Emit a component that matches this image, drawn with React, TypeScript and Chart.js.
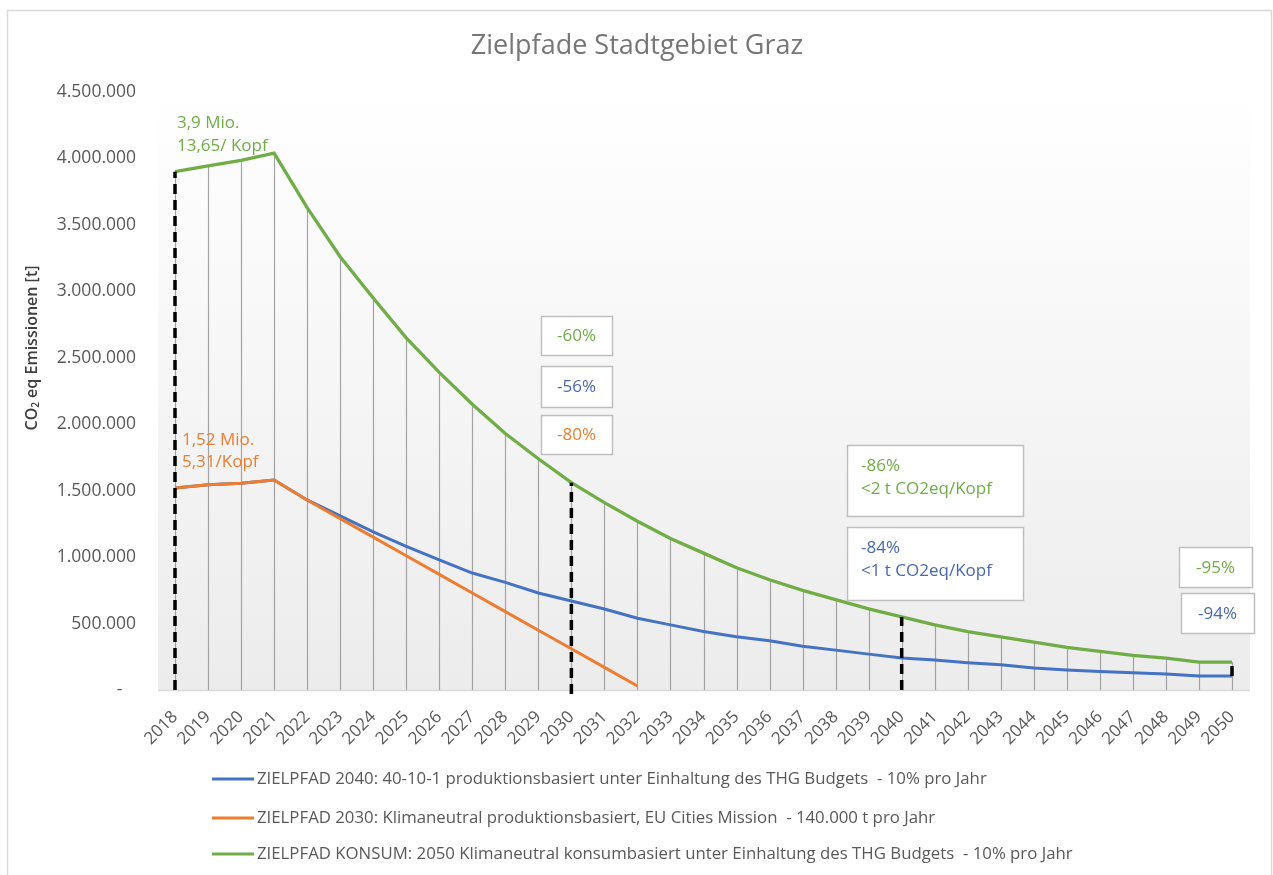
import React, { useEffect, useRef } from 'react';
import { Chart, registerables } from 'chart.js';

Chart.register(...registerables);

const years = ['2018', '2019', '2020', '2021', '2022', '2023', '2024', '2025', '2026', '2027', '2028', '2029', '2030', '2031', '2032', '2033', '2034', '2035', '2036', '2037', '2038', '2039', '2040', '2041', '2042', '2043', '2044', '2045', '2046', '2047', '2048', '2049', '2050'];

const zielpfad2040 = [1520000, 1545000, 1555000, 1580000, 1430000, 1310000, 1190000, 1080000, 980000, 880000, 810000, 730000, 670000, 610000, 540000, 490000, 440000, 400000, 370000, 330000, 300000, 270000, 240000, 225000, 205000, 190000, 165000, 150000, 140000, 130000, 120000, 105000, 105000];

const zielpfad2030 = [1520000, 1545000, 1555000, 1580000, 1430000, 1290000, 1150000, 1010000, 870000, 730000, 590000, 450000, 310000, 170000, 30000, null, null, null, null, null, null, null, null, null, null, null, null, null, null, null, null, null, null];

const zielpfadKonsum = [3900000, 3945000, 3985000, 4040000, 3630000, 3260000, 2950000, 2650000, 2390000, 2150000, 1930000, 1740000, 1560000, 1410000, 1270000, 1140000, 1030000, 920000, 830000, 750000, 680000, 610000, 550000, 490000, 440000, 400000, 360000, 320000, 290000, 260000, 240000, 210000, 210000];

const seriesNames = [
  'ZIELPFAD 2040: 40-10-1 produktionsbasiert unter Einhaltung des THG Budgets  - 10% pro Jahr',
  'ZIELPFAD 2030: Klimaneutral produktionsbasiert, EU Cities Mission  - 140.000 t pro Jahr',
  'ZIELPFAD KONSUM: 2050 Klimaneutral konsumbasiert unter Einhaltung des THG Budgets  - 10% pro Jahr',
];

const yMax = 4500000;
const yStep = 500000;

const chartTitle = 'Zielpfade Stadtgebiet Graz';

// dashed marker years: from base value to the KONSUM path
const markerYears = ['2018', '2030', '2040', '2050'];
const markerBases = [0, -30000, 0, 105000];

const BLUE = '#4472C4';
const ORANGE = '#ED7D31';
const GREEN = '#70AD47';
const BLUE_TXT = '#4868B4';
const FONT = '"Open Sans", "Noto Sans", sans-serif';

const plainLabels = [
  { x: 177, y: 123, text: '3,9 Mio.', color: GREEN },
  { x: 177, y: 146, text: '13,65/ Kopf', color: GREEN },
  { x: 182, y: 440, text: '1,52 Mio.', color: ORANGE },
  { x: 182, y: 462, text: '5,31/Kopf', color: ORANGE },
];

const boxes = [
  { x: 541, y: 316, w: 71, h: 39, lines: ['-60%'], color: GREEN, center: true },
  { x: 541, y: 366, w: 71, h: 41, lines: ['-56%'], color: BLUE_TXT, center: true },
  { x: 541, y: 415, w: 71, h: 39, lines: ['-80%'], color: ORANGE, center: true },
  { x: 847, y: 445, w: 176, h: 71, lines: ['-86%', '<2 t CO2eq/Kopf'], color: GREEN, center: false },
  { x: 847, y: 527, w: 176, h: 73, lines: ['-84%', '<1 t CO2eq/Kopf'], color: BLUE_TXT, center: false },
  { x: 1179, y: 547, w: 73, h: 40, lines: ['-95%'], color: GREEN, center: true },
  { x: 1181, y: 593, w: 73, h: 40, lines: ['-94%'], color: BLUE_TXT, center: true },
];

const fmt = (v: number) => (v === 0 ? '-   ' : String(v).replace(/\B(?=(\d{3})+(?!\d))/g, '.'));

const customPlugin = {
  id: 'customDraw',
  beforeDraw(chart: any) {
    const { ctx } = chart;
    const x = chart.scales.x;
    const y = chart.scales.y;
    ctx.save();
    ctx.fillStyle = '#ffffff';
    ctx.fillRect(0, 0, chart.width, chart.height);
    ctx.strokeStyle = '#d9d9d9';
    ctx.lineWidth = 1.5;
    ctx.strokeRect(7.5, 10.5, 1264, 900);
    const left = x.left - 17;
    const right = x.right + 18;
    const top = y.top;
    const bottom = y.getPixelForValue(0);
    const g = ctx.createLinearGradient(0, top, 0, bottom);
    g.addColorStop(0, '#ffffff');
    g.addColorStop(1, '#ececec');
    ctx.fillStyle = g;
    ctx.fillRect(left, top, right - left, bottom - top);
    ctx.strokeStyle = '#d9d9d9';
    ctx.lineWidth = 1.5;
    ctx.beginPath();
    ctx.moveTo(left, bottom + 0.5);
    ctx.lineTo(right, bottom + 0.5);
    ctx.stroke();
    ctx.restore();
  },
  beforeDatasetsDraw(chart: any) {
    const { ctx } = chart;
    const x = chart.scales.x;
    const y = chart.scales.y;
    ctx.save();
    ctx.strokeStyle = '#a3a3a3';
    ctx.lineWidth = 1.2;
    years.forEach((_, i) => {
      const vals = [zielpfad2040[i], zielpfad2030[i], zielpfadKonsum[i]].filter((v) => v != null) as number[];
      const mx = Math.max(...vals);
      const px = Math.round(x.getPixelForValue(i)) + 0.5;
      ctx.beginPath();
      ctx.moveTo(px, y.getPixelForValue(0));
      ctx.lineTo(px, y.getPixelForValue(mx));
      ctx.stroke();
    });
    ctx.restore();
  },
  afterDatasetsDraw(chart: any) {
    const { ctx } = chart;
    const x = chart.scales.x;
    const y = chart.scales.y;
    ctx.save();
    ctx.strokeStyle = '#000000';
    ctx.lineWidth = 3.5;
    ctx.setLineDash([10, 6]);
    markerYears.forEach((yr, k) => {
      const i = years.indexOf(yr);
      const px = x.getPixelForValue(i);
      ctx.beginPath();
      ctx.moveTo(px, y.getPixelForValue(markerBases[k]));
      ctx.lineTo(px, y.getPixelForValue(zielpfadKonsum[i]));
      ctx.stroke();
    });
    ctx.restore();
  },
  afterDraw(chart: any) {
    const { ctx } = chart;
    ctx.save();
    // title
    ctx.fillStyle = '#767676';
    ctx.font = `27px ${FONT}`;
    ctx.textAlign = 'center';
    ctx.textBaseline = 'middle';
    ctx.fillText(chartTitle, 637, 46);

    // y axis title
    ctx.save();
    ctx.translate(32, 348);
    ctx.rotate(-Math.PI / 2);
    ctx.fillStyle = '#3f3f3f';
    ctx.textBaseline = 'middle';
    ctx.textAlign = 'left';
    const f1 = `600 16px ${FONT}`;
    const f2 = `600 10px ${FONT}`;
    const partA = 'CO';
    const partB = '2';
    const partC = ' eq Emissionen [t]';
    ctx.font = f1;
    const wA = ctx.measureText(partA).width;
    const wC = ctx.measureText(partC).width;
    ctx.font = f2;
    const wB = ctx.measureText(partB).width;
    const total = wA + wB + wC;
    let cx = -total / 2;
    ctx.font = f1;
    ctx.fillText(partA, cx, 0);
    cx += wA;
    ctx.font = f2;
    ctx.fillText(partB, cx, 4);
    cx += wB;
    ctx.font = f1;
    ctx.fillText(partC, cx, 0);
    ctx.restore();

    // legend
    const colors = [BLUE, ORANGE, GREEN];
    const legendY = [779, 818, 854];
    ctx.textAlign = 'left';
    ctx.textBaseline = 'middle';
    ctx.font = `16.8px ${FONT}`;
    seriesNames.forEach((name, i) => {
      ctx.strokeStyle = colors[i];
      ctx.lineWidth = 3;
      ctx.beginPath();
      ctx.moveTo(212, legendY[i]);
      ctx.lineTo(254, legendY[i]);
      ctx.stroke();
      ctx.fillStyle = '#595959';
      ctx.fillText(name, 257, legendY[i]);
    });

    // plain labels
    ctx.font = `17px ${FONT}`;
    plainLabels.forEach((l) => {
      ctx.fillStyle = l.color;
      ctx.fillText(l.text, l.x, l.y);
    });

    // boxes
    boxes.forEach((b) => {
      ctx.fillStyle = '#ffffff';
      ctx.fillRect(b.x, b.y, b.w, b.h);
      ctx.strokeStyle = '#bfbfbf';
      ctx.lineWidth = 1.5;
      ctx.strokeRect(b.x + 0.5, b.y + 0.5, b.w, b.h);
      ctx.fillStyle = b.color;
      ctx.font = `17px ${FONT}`;
      if (b.center) {
        ctx.textAlign = 'center';
        ctx.fillText(b.lines[0], b.x + b.w / 2, b.y + b.h / 2 + 1);
      } else {
        ctx.textAlign = 'left';
        b.lines.forEach((t, k) => {
          ctx.fillText(t, b.x + 14, b.y + 21 + k * 23);
        });
      }
    });
    ctx.restore();
  },
};

export default function App() {
  const ref = useRef<HTMLCanvasElement | null>(null);
  useEffect(() => {
    if (!ref.current) return;
    const chart = new Chart(ref.current, {
      type: 'line',
      data: {
        labels: years,
        datasets: [
          { label: seriesNames[0], data: zielpfad2040, borderColor: BLUE, borderWidth: 3, pointRadius: 0, tension: 0, fill: false, order: 2 },
          { label: seriesNames[1], data: zielpfad2030, borderColor: ORANGE, borderWidth: 3, pointRadius: 0, tension: 0, fill: false, order: 1, spanGaps: false },
          { label: seriesNames[2], data: zielpfadKonsum, borderColor: GREEN, borderWidth: 3.3, pointRadius: 0, tension: 0, fill: false, order: 3 },
        ],
      },
      options: {
        responsive: false,
        animation: false,
        devicePixelRatio: 1,
        layout: { padding: { left: 0, right: 41, top: 92, bottom: 0 } },
        plugins: {
          legend: { display: false },
          title: { display: false },
          tooltip: { enabled: false },
        },
        scales: {
          x: {
            type: 'category',
            offset: false,
            grid: { display: false, drawTicks: false },
            border: { display: false },
            ticks: {
              autoSkip: false,
              maxRotation: 45,
              minRotation: 45,
              padding: 17,
              color: '#595959',
              font: { family: FONT, size: 17 },
            },
            afterFit: (s: any) => {
              s.height = 185;
            },
          },
          y: {
            min: 0,
            max: yMax,
            grid: { display: false, drawTicks: false },
            border: { display: false },
            ticks: {
              stepSize: yStep,
              padding: 39,
              color: '#595959',
              font: { family: FONT, size: 17.5 },
              callback: (v: any) => fmt(Number(v)),
            },
            afterFit: (s: any) => {
              s.width = 175;
            },
          },
        },
      },
      plugins: [customPlugin],
    });
    return () => chart.destroy();
  }, []);
  return (
    <div style={{ position: 'absolute', left: 0, top: 0, width: 1273, height: 875, background: '#fff' }}>
      <canvas ref={ref} width={1273} height={875} style={{ display: 'block', width: 1273, height: 875 }} />
    </div>
  );
}
